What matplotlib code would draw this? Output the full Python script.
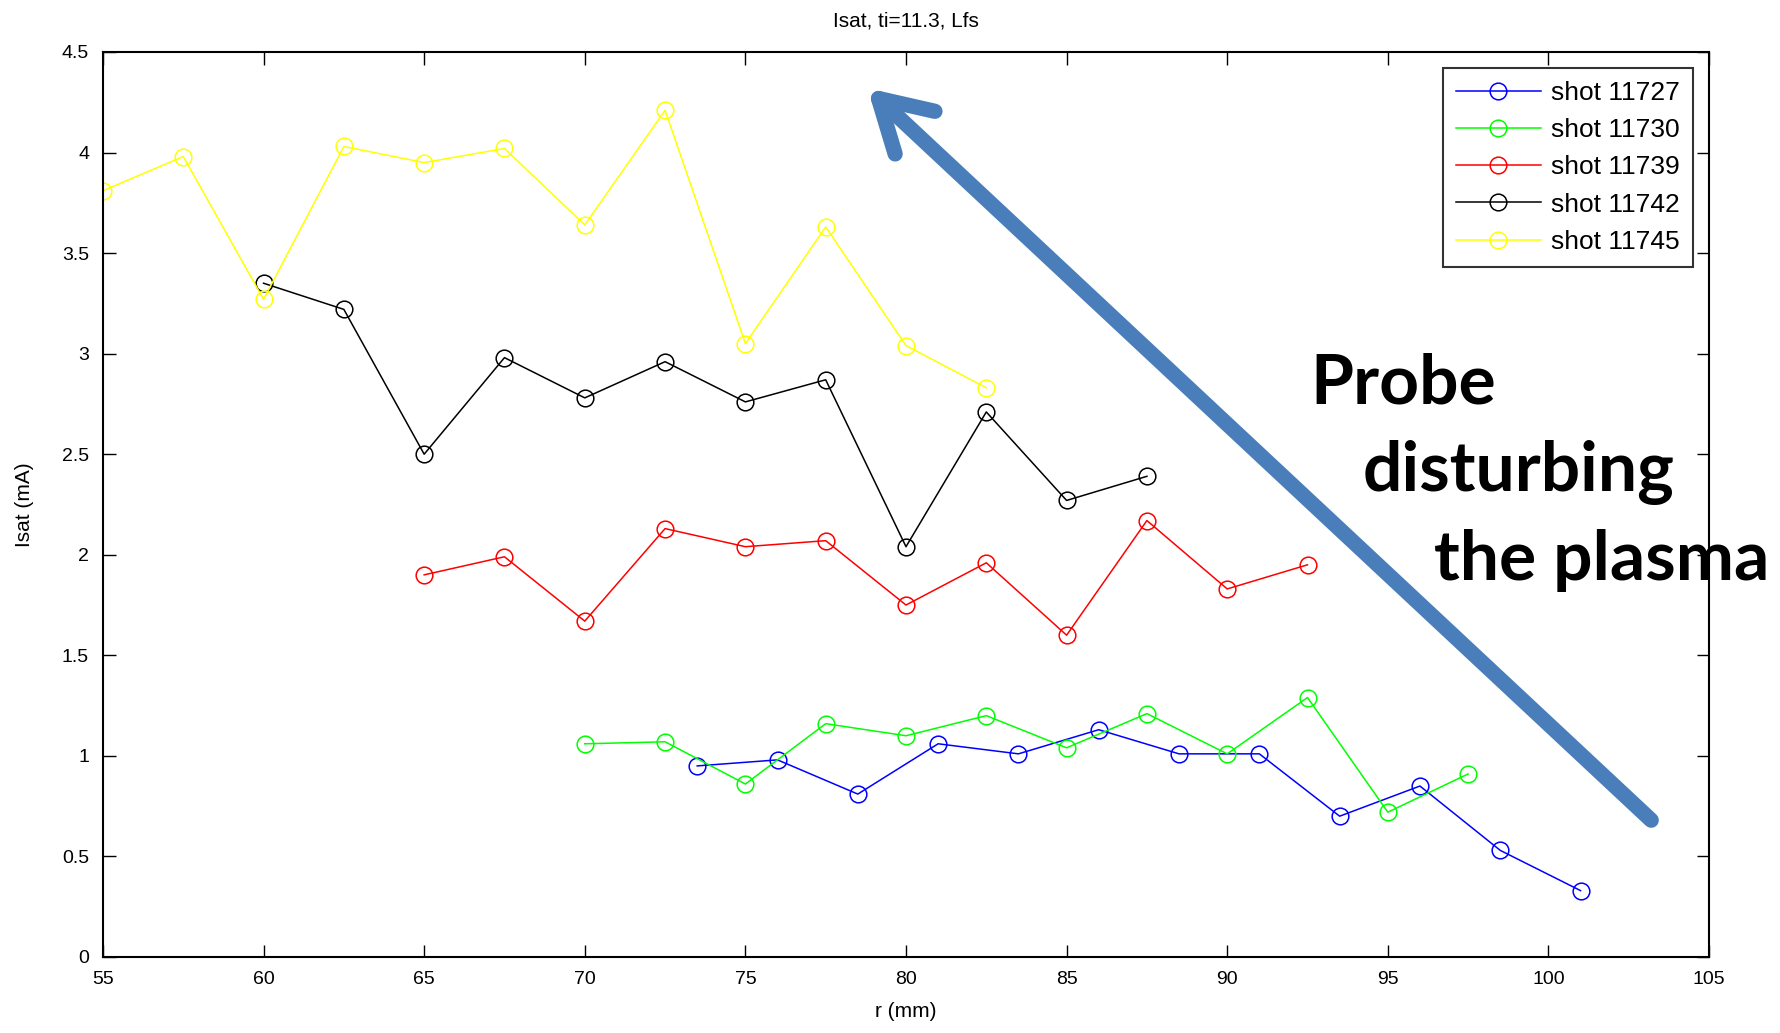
import numpy as np
import matplotlib
matplotlib.use("Agg")
import matplotlib.pyplot as plt

plt.rcParams['font.family'] = ['Liberation Sans', 'DejaVu Sans']

# shot 11727 (blue)
r_11727 = np.array([73.5, 76, 78.5, 81, 83.5, 86, 88.5, 91, 93.5, 96, 98.5, 101])
i_11727 = np.array([0.95, 0.98, 0.81, 1.06, 1.01, 1.13, 1.01, 1.01, 0.70, 0.85, 0.53, 0.33])

# shot 11730 (green)
r_11730 = np.array([70, 72.5, 75, 77.5, 80, 82.5, 85, 87.5, 90, 92.5, 95, 97.5])
i_11730 = np.array([1.06, 1.07, 0.86, 1.16, 1.10, 1.20, 1.04, 1.21, 1.01, 1.29, 0.72, 0.91])

# shot 11739 (red)
r_11739 = np.array([65, 67.5, 70, 72.5, 75, 77.5, 80, 82.5, 85, 87.5, 90, 92.5])
i_11739 = np.array([1.90, 1.99, 1.67, 2.13, 2.04, 2.07, 1.75, 1.96, 1.60, 2.17, 1.83, 1.95])

# shot 11742 (black)
r_11742 = np.array([60, 62.5, 65, 67.5, 70, 72.5, 75, 77.5, 80, 82.5, 85, 87.5])
i_11742 = np.array([3.35, 3.22, 2.50, 2.98, 2.78, 2.96, 2.76, 2.87, 2.04, 2.71, 2.27, 2.39])

# shot 11745 (yellow)
r_11745 = np.array([55, 57.5, 60, 62.5, 65, 67.5, 70, 72.5, 75, 77.5, 80, 82.5])
i_11745 = np.array([3.81, 3.98, 3.27, 4.03, 3.95, 4.02, 3.64, 4.21, 3.05, 3.63, 3.04, 2.83])

# fleche annotee (queue -> pointe)
fleche_queue = (103.2, 0.68)
fleche_pointe = (78.8, 4.32)

fig = plt.figure(figsize=(17.81, 10.33), dpi=100)
ax = fig.add_axes([0.0578, 0.0736, 0.9018, 0.8761])

style = dict(marker='o', markersize=12, markerfacecolor='none', linewidth=1.1, markeredgewidth=1.1)
ax.plot(r_11727, i_11727, color='#0000ff', label='shot 11727', **style)
ax.plot(r_11730, i_11730, color='#00ff00', label='shot 11730', **style)
ax.plot(r_11739, i_11739, color='#ff0000', label='shot 11739', **style)
ax.plot(r_11742, i_11742, color='#000000', label='shot 11742', **style)
ax.plot(r_11745, i_11745, color='#ffff00', label='shot 11745', **style)

ax.set_xlim(55, 105)
ax.set_ylim(0, 4.5)
ax.set_xticks(np.arange(55, 106, 5))
ax.set_yticks(np.arange(0, 4.51, 0.5))
ax.set_yticklabels(['0', '0.5', '1', '1.5', '2', '2.5', '3', '3.5', '4', '4.5'])
ax.tick_params(direction='in', length=9, width=1, top=True, right=True, labelsize=14, pad=10)
for s in ax.spines.values():
    s.set_linewidth(1.5)

ax.set_xlabel('r (mm)', fontsize=15, labelpad=10)
ax.set_ylabel('Isat (mA)', fontsize=15, labelpad=20)
ax.set_title('Isat, ti=11.3, Lfs', fontsize=15, pad=18)

leg = ax.legend(loc='upper right', fontsize=19, frameon=True, fancybox=False,
                edgecolor='black', handlelength=3.2, labelspacing=0.5,
                borderaxespad=0.6, borderpad=0.5, handletextpad=0.4)
leg.get_frame().set_linewidth(1.5)

ax.annotate('', xy=fleche_pointe, xytext=fleche_queue,
            arrowprops=dict(arrowstyle='->,head_length=3.6,head_width=2.1',
                            color='#4a7ebb', lw=11, shrinkA=0, shrinkB=0))

fig.text(0.736, 0.609, 'Probe', fontsize=50, fontweight='bold', family=['Lato', 'DejaVu Sans'])
fig.text(0.765, 0.525, 'disturbing', fontsize=50, fontweight='bold', family=['Lato', 'DejaVu Sans'])
fig.text(0.805, 0.439, 'the plasma', fontsize=50, fontweight='bold', family=['Lato', 'DejaVu Sans'])

fig.savefig('out.png', dpi=100)
